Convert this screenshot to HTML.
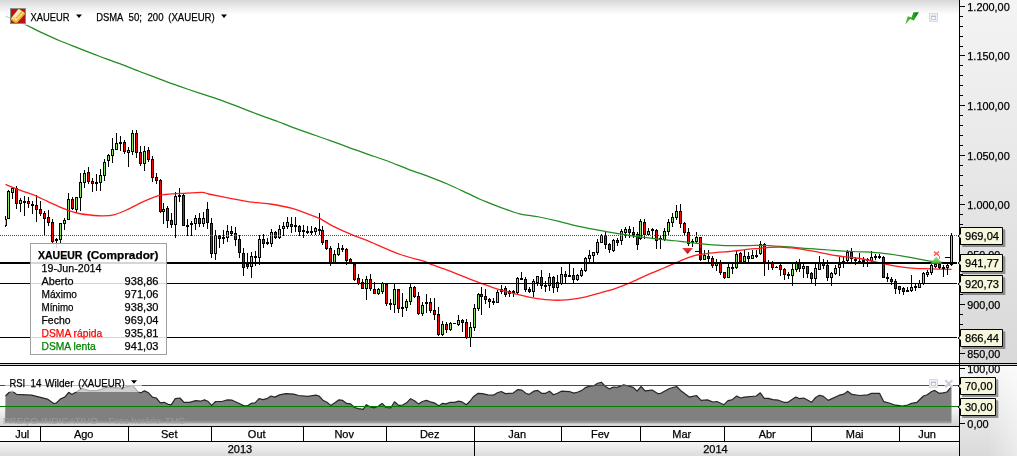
<!DOCTYPE html>
<html><head><meta charset="utf-8"><title>XAUEUR</title>
<style>
html,body{margin:0;padding:0;background:#fff;overflow:hidden}
body{width:1017px;height:456px}
svg{display:block;position:absolute;left:0;top:0;will-change:transform}
text{font-family:"Liberation Sans",sans-serif;font-size:11px;fill:#000;stroke:#000;stroke-width:0.25px}
.c{shape-rendering:crispEdges}
</style></head><body>
<svg width="1017" height="456" viewBox="0 0 1017 456">
<defs>
<linearGradient id="gtop" x1="0" y1="0" x2="0" y2="1"><stop offset="0" stop-color="#d7d7d7"/><stop offset="0.5" stop-color="#ececec"/><stop offset="1" stop-color="#ffffff"/></linearGradient>
<linearGradient id="gax" x1="0" y1="0" x2="0" y2="1"><stop offset="0" stop-color="#f4f4f4"/><stop offset="1" stop-color="#d9d9d9"/></linearGradient>
<linearGradient id="gax2" x1="0" y1="0" x2="0" y2="1"><stop offset="0" stop-color="#f8f8f8"/><stop offset="1" stop-color="#dadada"/></linearGradient>
<linearGradient id="gaxh" x1="0" y1="0" x2="1" y2="0"><stop offset="0" stop-color="#fff" stop-opacity="0"/><stop offset="1" stop-color="#fff" stop-opacity="0.45"/></linearGradient>
<linearGradient id="grsibg" x1="0" y1="0" x2="0" y2="1"><stop offset="0" stop-color="#ffffff"/><stop offset="0.62" stop-color="#ffffff"/><stop offset="1" stop-color="#d4d4d4"/></linearGradient>
<linearGradient id="grsi" x1="0" y1="0" x2="0" y2="1"><stop offset="0" stop-color="#808080"/><stop offset="0.92" stop-color="#808080"/><stop offset="1" stop-color="#acacac"/></linearGradient>
<linearGradient id="gyear" x1="0" y1="0" x2="0" y2="1"><stop offset="0" stop-color="#f6f6f6"/><stop offset="1" stop-color="#dcdcdc"/></linearGradient>
<linearGradient id="ggold" x1="0" y1="0" x2="1" y2="0.6"><stop offset="0" stop-color="#fff8ec"/><stop offset="0.45" stop-color="#fdecc8"/><stop offset="1" stop-color="#f9c15a"/></linearGradient>
<linearGradient id="ggreen" x1="0" y1="0" x2="1" y2="0"><stop offset="0" stop-color="#55c531"/><stop offset="0.55" stop-color="#2fa822"/><stop offset="1" stop-color="#0b6f10"/></linearGradient>
<linearGradient id="gredm" x1="0" y1="0" x2="0" y2="1"><stop offset="0" stop-color="#f04040"/><stop offset="0.25" stop-color="#e02c2c"/><stop offset="1" stop-color="#a81414"/></linearGradient>
<linearGradient id="ggrm" x1="0" y1="0" x2="0" y2="1"><stop offset="0" stop-color="#9be27e"/><stop offset="0.6" stop-color="#6fcf55"/><stop offset="1" stop-color="#3fa63a"/></linearGradient>
<clipPath id="cpmain"><rect x="5" y="0" width="954" height="363"/></clipPath>
<clipPath id="cprsi"><rect x="5" y="366" width="954" height="60"/></clipPath>
</defs>
<rect x="0" y="0" width="1017" height="456" fill="#fff"/>
<rect x="0" y="0" width="959" height="14.5" fill="url(#gtop)"/>
<rect x="960" y="0" width="57" height="363" fill="url(#gax)"/>
<rect x="960" y="366" width="57" height="90" fill="url(#gax2)"/>
<rect x="988" y="366" width="29" height="90" fill="url(#gaxh)"/>
<rect x="0" y="366" width="959" height="60" fill="url(#grsibg)"/>
<rect x="0" y="442" width="959" height="14" fill="url(#gyear)"/>
<g clip-path="url(#cpmain)">
<g class="c">
<rect x="5" y="216" width="1" height="11" fill="#000"/><rect x="5" y="219" width="2" height="7" fill="#000"/><rect x="5" y="220" width="1" height="5" fill="#8ae65c"/><rect x="8" y="190" width="1" height="29" fill="#000"/><rect x="7" y="191" width="3" height="28" fill="#000"/><rect x="8" y="192" width="1" height="26" fill="#8ae65c"/>
<rect x="12" y="187" width="1" height="12" fill="#000"/><rect x="11" y="188" width="3" height="5" fill="#000"/><rect x="12" y="189" width="1" height="3" fill="#8ae65c"/>
<rect x="16" y="186" width="1" height="23" fill="#000"/><rect x="15" y="188" width="3" height="16" fill="#000"/><rect x="16" y="189" width="1" height="14" fill="#ff0000"/>
<rect x="20" y="198" width="1" height="14" fill="#000"/><rect x="19" y="200" width="3" height="4" fill="#000"/><rect x="20" y="201" width="1" height="2" fill="#8ae65c"/>
<rect x="24" y="196" width="1" height="20" fill="#000"/><rect x="23" y="201" width="3" height="2" fill="#000"/>
<rect x="28" y="197" width="1" height="11" fill="#000"/><rect x="27" y="201" width="3" height="3" fill="#000"/><rect x="28" y="202" width="1" height="1" fill="#ff0000"/>
<rect x="32" y="201" width="1" height="13" fill="#000"/><rect x="31" y="204" width="3" height="2" fill="#000"/>
<rect x="36" y="195" width="1" height="27" fill="#000"/><rect x="35" y="205" width="3" height="5" fill="#000"/><rect x="36" y="206" width="1" height="3" fill="#ff0000"/>
<rect x="40" y="201" width="1" height="15" fill="#000"/><rect x="39" y="209" width="3" height="5" fill="#000"/><rect x="40" y="210" width="1" height="3" fill="#ff0000"/>
<rect x="44" y="211" width="1" height="24" fill="#000"/><rect x="43" y="213" width="3" height="6" fill="#000"/><rect x="44" y="214" width="1" height="4" fill="#ff0000"/>
<rect x="48" y="210" width="1" height="16" fill="#000"/><rect x="47" y="217" width="3" height="6" fill="#000"/><rect x="48" y="218" width="1" height="4" fill="#ff0000"/>
<rect x="52" y="219" width="1" height="24" fill="#000"/><rect x="51" y="222" width="3" height="20" fill="#000"/><rect x="52" y="223" width="1" height="18" fill="#ff0000"/>
<rect x="56" y="238" width="1" height="10" fill="#000"/><rect x="55" y="239" width="3" height="2" fill="#000"/>
<rect x="60" y="223" width="1" height="20" fill="#000"/><rect x="59" y="223" width="3" height="17" fill="#000"/><rect x="60" y="224" width="1" height="15" fill="#8ae65c"/>
<rect x="64" y="218" width="1" height="12" fill="#000"/><rect x="63" y="220" width="3" height="4" fill="#000"/><rect x="64" y="221" width="1" height="2" fill="#8ae65c"/>
<rect x="68" y="193" width="1" height="27" fill="#000"/><rect x="67" y="199" width="3" height="21" fill="#000"/><rect x="68" y="200" width="1" height="19" fill="#8ae65c"/>
<rect x="72" y="197" width="1" height="13" fill="#000"/><rect x="71" y="199" width="3" height="10" fill="#000"/><rect x="72" y="200" width="1" height="8" fill="#ff0000"/>
<rect x="76" y="197" width="1" height="16" fill="#000"/><rect x="75" y="197" width="3" height="13" fill="#000"/><rect x="76" y="198" width="1" height="11" fill="#8ae65c"/>
<rect x="80" y="173" width="1" height="38" fill="#000"/><rect x="79" y="182" width="3" height="16" fill="#000"/><rect x="80" y="183" width="1" height="14" fill="#8ae65c"/>
<rect x="84" y="170" width="1" height="18" fill="#000"/><rect x="83" y="173" width="3" height="10" fill="#000"/><rect x="84" y="174" width="1" height="8" fill="#8ae65c"/>
<rect x="88" y="167" width="1" height="17" fill="#000"/><rect x="87" y="172" width="3" height="10" fill="#000"/><rect x="88" y="173" width="1" height="8" fill="#ff0000"/>
<rect x="92" y="178" width="1" height="14" fill="#000"/><rect x="91" y="181" width="3" height="3" fill="#000"/><rect x="92" y="182" width="1" height="1" fill="#ff0000"/>
<rect x="96" y="174" width="1" height="17" fill="#000"/><rect x="95" y="182" width="3" height="2" fill="#000"/>
<rect x="100" y="169" width="1" height="22" fill="#000"/><rect x="99" y="175" width="3" height="8" fill="#000"/><rect x="100" y="176" width="1" height="6" fill="#8ae65c"/>
<rect x="104" y="159" width="1" height="22" fill="#000"/><rect x="103" y="162" width="3" height="14" fill="#000"/><rect x="104" y="163" width="1" height="12" fill="#8ae65c"/>
<rect x="108" y="154" width="1" height="13" fill="#000"/><rect x="107" y="155" width="3" height="6" fill="#000"/><rect x="108" y="156" width="1" height="4" fill="#8ae65c"/>
<rect x="112" y="138" width="1" height="25" fill="#000"/><rect x="111" y="149" width="3" height="7" fill="#000"/><rect x="112" y="150" width="1" height="5" fill="#8ae65c"/>
<rect x="116" y="133" width="1" height="17" fill="#000"/><rect x="115" y="143" width="3" height="7" fill="#000"/><rect x="116" y="144" width="1" height="5" fill="#8ae65c"/>
<rect x="120" y="136" width="1" height="15" fill="#000"/><rect x="119" y="142" width="3" height="2" fill="#000"/>
<rect x="124" y="140" width="1" height="14" fill="#000"/><rect x="123" y="142" width="3" height="10" fill="#000"/><rect x="124" y="143" width="1" height="8" fill="#ff0000"/>
<rect x="128" y="147" width="1" height="20" fill="#000"/><rect x="127" y="150" width="3" height="3" fill="#000"/><rect x="128" y="151" width="1" height="1" fill="#8ae65c"/>
<rect x="132" y="130" width="1" height="25" fill="#000"/><rect x="131" y="133" width="3" height="19" fill="#000"/><rect x="132" y="134" width="1" height="17" fill="#8ae65c"/>
<rect x="136" y="130" width="1" height="28" fill="#000"/><rect x="135" y="133" width="3" height="20" fill="#000"/><rect x="136" y="134" width="1" height="18" fill="#ff0000"/>
<rect x="140" y="146" width="1" height="20" fill="#000"/><rect x="139" y="152" width="3" height="12" fill="#000"/><rect x="140" y="153" width="1" height="10" fill="#ff0000"/>
<rect x="144" y="146" width="1" height="25" fill="#000"/><rect x="143" y="151" width="3" height="13" fill="#000"/><rect x="144" y="152" width="1" height="11" fill="#8ae65c"/>
<rect x="148" y="147" width="1" height="15" fill="#000"/><rect x="147" y="150" width="3" height="10" fill="#000"/><rect x="148" y="151" width="1" height="8" fill="#ff0000"/>
<rect x="152" y="156" width="1" height="26" fill="#000"/><rect x="151" y="159" width="3" height="19" fill="#000"/><rect x="152" y="160" width="1" height="17" fill="#ff0000"/>
<rect x="156" y="173" width="1" height="11" fill="#000"/><rect x="155" y="177" width="3" height="4" fill="#000"/><rect x="156" y="178" width="1" height="2" fill="#ff0000"/>
<rect x="160" y="179" width="1" height="34" fill="#000"/><rect x="159" y="180" width="3" height="32" fill="#000"/><rect x="160" y="181" width="1" height="30" fill="#ff0000"/>
<rect x="163" y="203" width="1" height="21" fill="#000"/><rect x="162" y="209" width="3" height="3" fill="#000"/><rect x="163" y="210" width="1" height="1" fill="#8ae65c"/>
<rect x="167" y="206" width="1" height="22" fill="#000"/><rect x="166" y="208" width="3" height="13" fill="#000"/><rect x="167" y="209" width="1" height="11" fill="#ff0000"/>
<rect x="171" y="213" width="1" height="15" fill="#000"/><rect x="170" y="220" width="3" height="5" fill="#000"/><rect x="171" y="221" width="1" height="3" fill="#ff0000"/>
<rect x="175" y="192" width="1" height="46" fill="#000"/><rect x="174" y="196" width="3" height="29" fill="#000"/><rect x="175" y="197" width="1" height="27" fill="#8ae65c"/>
<rect x="179" y="188" width="1" height="14" fill="#000"/><rect x="178" y="195" width="3" height="2" fill="#000"/>
<rect x="183" y="194" width="1" height="31" fill="#000"/><rect x="182" y="195" width="3" height="31" fill="#000"/><rect x="183" y="196" width="1" height="29" fill="#ff0000"/>
<rect x="187" y="219" width="1" height="17" fill="#000"/><rect x="186" y="225" width="3" height="2" fill="#000"/>
<rect x="191" y="221" width="1" height="15" fill="#000"/><rect x="190" y="223" width="3" height="2" fill="#000"/>
<rect x="195" y="215" width="1" height="15" fill="#000"/><rect x="194" y="218" width="3" height="6" fill="#000"/><rect x="195" y="219" width="1" height="4" fill="#8ae65c"/>
<rect x="199" y="213" width="1" height="14" fill="#000"/><rect x="198" y="218" width="3" height="6" fill="#000"/><rect x="199" y="219" width="1" height="4" fill="#ff0000"/>
<rect x="203" y="212" width="1" height="15" fill="#000"/><rect x="202" y="218" width="3" height="6" fill="#000"/><rect x="203" y="219" width="1" height="4" fill="#8ae65c"/>
<rect x="207" y="202" width="1" height="27" fill="#000"/><rect x="206" y="209" width="3" height="14" fill="#000"/><rect x="207" y="210" width="1" height="12" fill="#ff0000"/>
<rect x="211" y="218" width="1" height="40" fill="#000"/><rect x="210" y="223" width="3" height="31" fill="#000"/><rect x="211" y="224" width="1" height="29" fill="#ff0000"/>
<rect x="215" y="230" width="1" height="30" fill="#000"/><rect x="214" y="235" width="3" height="19" fill="#000"/><rect x="215" y="236" width="1" height="17" fill="#8ae65c"/>
<rect x="219" y="235" width="1" height="13" fill="#000"/><rect x="218" y="236" width="3" height="3" fill="#000"/><rect x="219" y="237" width="1" height="1" fill="#ff0000"/>
<rect x="223" y="230" width="1" height="14" fill="#000"/><rect x="222" y="237" width="3" height="2" fill="#000"/>
<rect x="227" y="225" width="1" height="17" fill="#000"/><rect x="226" y="231" width="3" height="7" fill="#000"/><rect x="227" y="232" width="1" height="5" fill="#8ae65c"/>
<rect x="231" y="226" width="1" height="10" fill="#000"/><rect x="230" y="231" width="3" height="3" fill="#000"/><rect x="231" y="232" width="1" height="1" fill="#ff0000"/>
<rect x="235" y="227" width="1" height="19" fill="#000"/><rect x="234" y="233" width="3" height="7" fill="#000"/><rect x="235" y="234" width="1" height="5" fill="#ff0000"/>
<rect x="239" y="235" width="1" height="23" fill="#000"/><rect x="238" y="239" width="3" height="14" fill="#000"/><rect x="239" y="240" width="1" height="12" fill="#ff0000"/>
<rect x="243" y="248" width="1" height="28" fill="#000"/><rect x="242" y="253" width="3" height="15" fill="#000"/><rect x="243" y="254" width="1" height="13" fill="#ff0000"/>
<rect x="247" y="253" width="1" height="16" fill="#000"/><rect x="246" y="264" width="3" height="3" fill="#000"/><rect x="247" y="265" width="1" height="1" fill="#ff0000"/>
<rect x="251" y="252" width="1" height="26" fill="#000"/><rect x="250" y="256" width="3" height="11" fill="#000"/><rect x="251" y="257" width="1" height="9" fill="#8ae65c"/>
<rect x="255" y="251" width="1" height="15" fill="#000"/><rect x="254" y="256" width="3" height="2" fill="#000"/>
<rect x="259" y="235" width="1" height="30" fill="#000"/><rect x="258" y="239" width="3" height="19" fill="#000"/><rect x="259" y="240" width="1" height="17" fill="#8ae65c"/>
<rect x="263" y="234" width="1" height="14" fill="#000"/><rect x="262" y="239" width="3" height="5" fill="#000"/><rect x="263" y="240" width="1" height="3" fill="#ff0000"/>
<rect x="267" y="238" width="1" height="7" fill="#000"/><rect x="266" y="242" width="3" height="2" fill="#000"/>
<rect x="271" y="229" width="1" height="18" fill="#000"/><rect x="270" y="232" width="3" height="12" fill="#000"/><rect x="271" y="233" width="1" height="10" fill="#8ae65c"/>
<rect x="275" y="231" width="1" height="8" fill="#000"/><rect x="274" y="232" width="3" height="6" fill="#000"/><rect x="275" y="233" width="1" height="4" fill="#ff0000"/>
<rect x="279" y="225" width="1" height="14" fill="#000"/><rect x="278" y="229" width="3" height="9" fill="#000"/><rect x="279" y="230" width="1" height="7" fill="#8ae65c"/>
<rect x="283" y="222" width="1" height="14" fill="#000"/><rect x="282" y="226" width="3" height="3" fill="#000"/><rect x="283" y="227" width="1" height="1" fill="#8ae65c"/>
<rect x="287" y="217" width="1" height="12" fill="#000"/><rect x="286" y="222" width="3" height="5" fill="#000"/><rect x="287" y="223" width="1" height="3" fill="#8ae65c"/>
<rect x="291" y="217" width="1" height="16" fill="#000"/><rect x="290" y="224" width="3" height="3" fill="#000"/><rect x="291" y="225" width="1" height="1" fill="#ff0000"/>
<rect x="295" y="217" width="1" height="15" fill="#000"/><rect x="294" y="225" width="3" height="2" fill="#000"/>
<rect x="299" y="225" width="1" height="11" fill="#000"/><rect x="298" y="226" width="3" height="6" fill="#000"/><rect x="299" y="227" width="1" height="4" fill="#ff0000"/>
<rect x="303" y="225" width="1" height="13" fill="#000"/><rect x="302" y="230" width="3" height="2" fill="#000"/>
<rect x="307" y="226" width="1" height="8" fill="#000"/><rect x="306" y="231" width="3" height="2" fill="#000"/>
<rect x="311" y="226" width="1" height="9" fill="#000"/><rect x="310" y="231" width="3" height="2" fill="#000"/>
<rect x="315" y="227" width="1" height="8" fill="#000"/><rect x="314" y="228" width="3" height="4" fill="#000"/><rect x="315" y="229" width="1" height="2" fill="#8ae65c"/>
<rect x="319" y="213" width="1" height="22" fill="#000"/><rect x="318" y="229" width="3" height="2" fill="#000"/>
<rect x="322" y="226" width="1" height="19" fill="#000"/><rect x="321" y="230" width="3" height="13" fill="#000"/><rect x="322" y="231" width="1" height="11" fill="#ff0000"/>
<rect x="326" y="240" width="1" height="10" fill="#000"/><rect x="325" y="240" width="3" height="9" fill="#000"/><rect x="326" y="241" width="1" height="7" fill="#ff0000"/>
<rect x="330" y="246" width="1" height="20" fill="#000"/><rect x="329" y="248" width="3" height="16" fill="#000"/><rect x="330" y="249" width="1" height="14" fill="#ff0000"/>
<rect x="334" y="250" width="1" height="12" fill="#000"/><rect x="333" y="254" width="3" height="9" fill="#000"/><rect x="334" y="255" width="1" height="7" fill="#8ae65c"/>
<rect x="338" y="243" width="1" height="13" fill="#000"/><rect x="337" y="248" width="3" height="7" fill="#000"/><rect x="338" y="249" width="1" height="5" fill="#8ae65c"/>
<rect x="342" y="245" width="1" height="7" fill="#000"/><rect x="341" y="248" width="3" height="2" fill="#000"/>
<rect x="346" y="248" width="1" height="17" fill="#000"/><rect x="345" y="249" width="3" height="12" fill="#000"/><rect x="346" y="250" width="1" height="10" fill="#ff0000"/>
<rect x="350" y="258" width="1" height="6" fill="#000"/><rect x="349" y="259" width="3" height="4" fill="#000"/><rect x="350" y="260" width="1" height="2" fill="#ff0000"/>
<rect x="354" y="262" width="1" height="19" fill="#000"/><rect x="353" y="264" width="3" height="16" fill="#000"/><rect x="354" y="265" width="1" height="14" fill="#ff0000"/>
<rect x="358" y="274" width="1" height="11" fill="#000"/><rect x="357" y="278" width="3" height="6" fill="#000"/><rect x="358" y="279" width="1" height="4" fill="#ff0000"/>
<rect x="362" y="279" width="1" height="9" fill="#000"/><rect x="361" y="282" width="3" height="7" fill="#000"/><rect x="362" y="283" width="1" height="5" fill="#ff0000"/>
<rect x="366" y="276" width="1" height="24" fill="#000"/><rect x="365" y="279" width="3" height="10" fill="#000"/><rect x="366" y="280" width="1" height="8" fill="#8ae65c"/>
<rect x="370" y="274" width="1" height="17" fill="#000"/><rect x="369" y="279" width="3" height="10" fill="#000"/><rect x="370" y="280" width="1" height="8" fill="#ff0000"/>
<rect x="374" y="282" width="1" height="12" fill="#000"/><rect x="373" y="289" width="3" height="5" fill="#000"/><rect x="374" y="290" width="1" height="3" fill="#ff0000"/>
<rect x="378" y="288" width="1" height="7" fill="#000"/><rect x="377" y="289" width="3" height="5" fill="#000"/><rect x="378" y="290" width="1" height="3" fill="#8ae65c"/>
<rect x="382" y="282" width="1" height="12" fill="#000"/><rect x="381" y="283" width="3" height="9" fill="#000"/><rect x="382" y="284" width="1" height="7" fill="#8ae65c"/>
<rect x="386" y="283" width="1" height="23" fill="#000"/><rect x="385" y="284" width="3" height="20" fill="#000"/><rect x="386" y="285" width="1" height="18" fill="#ff0000"/>
<rect x="390" y="299" width="1" height="11" fill="#000"/><rect x="389" y="303" width="3" height="2" fill="#000"/>
<rect x="394" y="284" width="1" height="29" fill="#000"/><rect x="393" y="289" width="3" height="16" fill="#000"/><rect x="394" y="290" width="1" height="14" fill="#8ae65c"/>
<rect x="398" y="289" width="1" height="24" fill="#000"/><rect x="397" y="289" width="3" height="20" fill="#000"/><rect x="398" y="290" width="1" height="18" fill="#ff0000"/>
<rect x="402" y="293" width="1" height="24" fill="#000"/><rect x="401" y="307" width="3" height="2" fill="#000"/>
<rect x="406" y="299" width="1" height="12" fill="#000"/><rect x="405" y="301" width="3" height="7" fill="#000"/><rect x="406" y="302" width="1" height="5" fill="#8ae65c"/>
<rect x="410" y="284" width="1" height="21" fill="#000"/><rect x="409" y="287" width="3" height="15" fill="#000"/><rect x="410" y="288" width="1" height="13" fill="#8ae65c"/>
<rect x="414" y="286" width="1" height="12" fill="#000"/><rect x="413" y="287" width="3" height="10" fill="#000"/><rect x="414" y="288" width="1" height="8" fill="#ff0000"/>
<rect x="418" y="292" width="1" height="23" fill="#000"/><rect x="417" y="296" width="3" height="18" fill="#000"/><rect x="418" y="297" width="1" height="16" fill="#ff0000"/>
<rect x="422" y="302" width="1" height="14" fill="#000"/><rect x="421" y="305" width="3" height="9" fill="#000"/><rect x="422" y="306" width="1" height="7" fill="#8ae65c"/>
<rect x="426" y="294" width="1" height="19" fill="#000"/><rect x="425" y="302" width="3" height="2" fill="#000"/>
<rect x="430" y="298" width="1" height="15" fill="#000"/><rect x="429" y="302" width="3" height="9" fill="#000"/><rect x="430" y="303" width="1" height="7" fill="#ff0000"/>
<rect x="434" y="298" width="1" height="22" fill="#000"/><rect x="433" y="310" width="3" height="5" fill="#000"/><rect x="434" y="311" width="1" height="3" fill="#ff0000"/>
<rect x="438" y="307" width="1" height="29" fill="#000"/><rect x="437" y="314" width="3" height="21" fill="#000"/><rect x="438" y="315" width="1" height="19" fill="#ff0000"/>
<rect x="442" y="321" width="1" height="15" fill="#000"/><rect x="441" y="324" width="3" height="11" fill="#000"/><rect x="442" y="325" width="1" height="9" fill="#8ae65c"/>
<rect x="446" y="322" width="1" height="11" fill="#000"/><rect x="445" y="324" width="3" height="6" fill="#000"/><rect x="446" y="325" width="1" height="4" fill="#ff0000"/>
<rect x="450" y="322" width="1" height="9" fill="#000"/><rect x="449" y="323" width="3" height="7" fill="#000"/><rect x="450" y="324" width="1" height="5" fill="#8ae65c"/>
<rect x="453" y="323" width="3" height="1" fill="#000"/>
<rect x="458" y="315" width="1" height="11" fill="#000"/><rect x="457" y="320" width="3" height="5" fill="#000"/><rect x="458" y="321" width="1" height="3" fill="#8ae65c"/>
<rect x="462" y="319" width="1" height="13" fill="#000"/><rect x="461" y="320" width="3" height="3" fill="#000"/><rect x="462" y="321" width="1" height="1" fill="#ff0000"/>
<rect x="466" y="319" width="1" height="20" fill="#000"/><rect x="465" y="322" width="3" height="16" fill="#000"/><rect x="466" y="323" width="1" height="14" fill="#ff0000"/>
<rect x="470" y="322" width="1" height="25" fill="#000"/><rect x="469" y="327" width="3" height="11" fill="#000"/><rect x="470" y="328" width="1" height="9" fill="#8ae65c"/>
<rect x="474" y="304" width="1" height="27" fill="#000"/><rect x="473" y="308" width="3" height="20" fill="#000"/><rect x="474" y="309" width="1" height="18" fill="#8ae65c"/>
<rect x="478" y="293" width="1" height="18" fill="#000"/><rect x="477" y="294" width="3" height="15" fill="#000"/><rect x="478" y="295" width="1" height="13" fill="#8ae65c"/>
<rect x="481" y="287" width="1" height="28" fill="#000"/><rect x="480" y="294" width="3" height="3" fill="#000"/><rect x="481" y="295" width="1" height="1" fill="#ff0000"/>
<rect x="485" y="289" width="1" height="15" fill="#000"/><rect x="484" y="296" width="3" height="4" fill="#000"/><rect x="485" y="297" width="1" height="2" fill="#ff0000"/>
<rect x="489" y="298" width="1" height="10" fill="#000"/><rect x="488" y="299" width="3" height="3" fill="#000"/><rect x="489" y="300" width="1" height="1" fill="#ff0000"/>
<rect x="493" y="298" width="1" height="7" fill="#000"/><rect x="492" y="301" width="3" height="2" fill="#000"/>
<rect x="497" y="290" width="1" height="12" fill="#000"/><rect x="496" y="292" width="3" height="11" fill="#000"/><rect x="497" y="293" width="1" height="9" fill="#8ae65c"/>
<rect x="501" y="285" width="1" height="9" fill="#000"/><rect x="500" y="289" width="3" height="3" fill="#000"/><rect x="501" y="290" width="1" height="1" fill="#8ae65c"/>
<rect x="505" y="286" width="1" height="11" fill="#000"/><rect x="504" y="288" width="3" height="7" fill="#000"/><rect x="505" y="289" width="1" height="5" fill="#ff0000"/>
<rect x="509" y="290" width="1" height="7" fill="#000"/><rect x="508" y="291" width="3" height="3" fill="#000"/><rect x="509" y="292" width="1" height="1" fill="#8ae65c"/>
<rect x="513" y="290" width="1" height="7" fill="#000"/><rect x="512" y="291" width="3" height="2" fill="#000"/>
<rect x="517" y="277" width="1" height="17" fill="#000"/><rect x="516" y="278" width="3" height="15" fill="#000"/><rect x="517" y="279" width="1" height="13" fill="#8ae65c"/>
<rect x="521" y="272" width="1" height="8" fill="#000"/><rect x="520" y="278" width="3" height="2" fill="#000"/>
<rect x="525" y="277" width="1" height="15" fill="#000"/><rect x="524" y="279" width="3" height="11" fill="#000"/><rect x="525" y="280" width="1" height="9" fill="#ff0000"/>
<rect x="529" y="287" width="1" height="6" fill="#000"/><rect x="528" y="289" width="3" height="3" fill="#000"/><rect x="529" y="290" width="1" height="1" fill="#ff0000"/>
<rect x="533" y="279" width="1" height="18" fill="#000"/><rect x="532" y="281" width="3" height="11" fill="#000"/><rect x="533" y="282" width="1" height="9" fill="#8ae65c"/>
<rect x="537" y="276" width="1" height="10" fill="#000"/><rect x="536" y="276" width="3" height="7" fill="#000"/><rect x="537" y="277" width="1" height="5" fill="#8ae65c"/>
<rect x="541" y="270" width="1" height="19" fill="#000"/><rect x="540" y="277" width="3" height="9" fill="#000"/><rect x="541" y="278" width="1" height="7" fill="#ff0000"/>
<rect x="545" y="281" width="1" height="11" fill="#000"/><rect x="544" y="285" width="3" height="2" fill="#000"/>
<rect x="549" y="273" width="1" height="18" fill="#000"/><rect x="548" y="277" width="3" height="9" fill="#000"/><rect x="549" y="278" width="1" height="7" fill="#8ae65c"/>
<rect x="553" y="276" width="1" height="17" fill="#000"/><rect x="552" y="277" width="3" height="11" fill="#000"/><rect x="553" y="278" width="1" height="9" fill="#ff0000"/>
<rect x="557" y="275" width="1" height="17" fill="#000"/><rect x="556" y="282" width="3" height="6" fill="#000"/><rect x="557" y="283" width="1" height="4" fill="#8ae65c"/>
<rect x="561" y="267" width="1" height="18" fill="#000"/><rect x="560" y="274" width="3" height="10" fill="#000"/><rect x="561" y="275" width="1" height="8" fill="#8ae65c"/>
<rect x="565" y="271" width="1" height="12" fill="#000"/><rect x="564" y="274" width="3" height="3" fill="#000"/><rect x="565" y="275" width="1" height="1" fill="#ff0000"/>
<rect x="569" y="264" width="1" height="13" fill="#000"/><rect x="568" y="275" width="3" height="2" fill="#000"/>
<rect x="573" y="268" width="1" height="15" fill="#000"/><rect x="572" y="275" width="3" height="5" fill="#000"/><rect x="573" y="276" width="1" height="3" fill="#ff0000"/>
<rect x="577" y="274" width="1" height="7" fill="#000"/><rect x="576" y="275" width="3" height="5" fill="#000"/><rect x="577" y="276" width="1" height="3" fill="#8ae65c"/>
<rect x="581" y="268" width="1" height="9" fill="#000"/><rect x="580" y="270" width="3" height="6" fill="#000"/><rect x="581" y="271" width="1" height="4" fill="#8ae65c"/>
<rect x="585" y="257" width="1" height="15" fill="#000"/><rect x="584" y="258" width="3" height="13" fill="#000"/><rect x="585" y="259" width="1" height="11" fill="#8ae65c"/>
<rect x="589" y="250" width="1" height="12" fill="#000"/><rect x="588" y="255" width="3" height="4" fill="#000"/><rect x="589" y="256" width="1" height="2" fill="#8ae65c"/>
<rect x="593" y="252" width="1" height="10" fill="#000"/><rect x="592" y="252" width="3" height="4" fill="#000"/><rect x="593" y="253" width="1" height="2" fill="#8ae65c"/>
<rect x="597" y="239" width="1" height="16" fill="#000"/><rect x="596" y="242" width="3" height="11" fill="#000"/><rect x="597" y="243" width="1" height="9" fill="#8ae65c"/>
<rect x="601" y="234" width="1" height="9" fill="#000"/><rect x="600" y="235" width="3" height="8" fill="#000"/><rect x="601" y="236" width="1" height="6" fill="#8ae65c"/>
<rect x="605" y="232" width="1" height="17" fill="#000"/><rect x="604" y="235" width="3" height="10" fill="#000"/><rect x="605" y="236" width="1" height="8" fill="#ff0000"/>
<rect x="609" y="243" width="1" height="10" fill="#000"/><rect x="608" y="244" width="3" height="6" fill="#000"/><rect x="609" y="245" width="1" height="4" fill="#ff0000"/>
<rect x="613" y="239" width="1" height="13" fill="#000"/><rect x="612" y="240" width="3" height="11" fill="#000"/><rect x="613" y="241" width="1" height="9" fill="#8ae65c"/>
<rect x="617" y="238" width="1" height="8" fill="#000"/><rect x="616" y="240" width="3" height="3" fill="#000"/><rect x="617" y="241" width="1" height="1" fill="#ff0000"/>
<rect x="621" y="229" width="1" height="16" fill="#000"/><rect x="620" y="231" width="3" height="10" fill="#000"/><rect x="621" y="232" width="1" height="8" fill="#8ae65c"/>
<rect x="625" y="227" width="1" height="11" fill="#000"/><rect x="624" y="229" width="3" height="4" fill="#000"/><rect x="625" y="230" width="1" height="2" fill="#8ae65c"/>
<rect x="629" y="226" width="1" height="12" fill="#000"/><rect x="628" y="229" width="3" height="4" fill="#000"/><rect x="629" y="230" width="1" height="2" fill="#ff0000"/>
<rect x="633" y="227" width="1" height="11" fill="#000"/><rect x="632" y="232" width="3" height="3" fill="#000"/><rect x="633" y="233" width="1" height="1" fill="#ff0000"/>
<rect x="637" y="232" width="1" height="18" fill="#000"/><rect x="636" y="234" width="3" height="11" fill="#000"/><rect x="637" y="235" width="1" height="9" fill="#ff0000"/>
<rect x="640" y="219" width="1" height="21" fill="#000"/><rect x="639" y="221" width="3" height="18" fill="#000"/><rect x="640" y="222" width="1" height="16" fill="#8ae65c"/>
<rect x="644" y="219" width="1" height="20" fill="#000"/><rect x="643" y="222" width="3" height="13" fill="#000"/><rect x="644" y="223" width="1" height="11" fill="#ff0000"/>
<rect x="648" y="228" width="1" height="8" fill="#000"/><rect x="647" y="231" width="3" height="4" fill="#000"/><rect x="648" y="232" width="1" height="2" fill="#8ae65c"/>
<rect x="652" y="228" width="1" height="11" fill="#000"/><rect x="651" y="229" width="3" height="2" fill="#000"/>
<rect x="656" y="229" width="1" height="20" fill="#000"/><rect x="655" y="230" width="3" height="11" fill="#000"/><rect x="656" y="231" width="1" height="9" fill="#ff0000"/>
<rect x="660" y="236" width="1" height="13" fill="#000"/><rect x="659" y="238" width="3" height="2" fill="#000"/>
<rect x="664" y="228" width="1" height="13" fill="#000"/><rect x="663" y="231" width="3" height="9" fill="#000"/><rect x="664" y="232" width="1" height="7" fill="#8ae65c"/>
<rect x="668" y="219" width="1" height="17" fill="#000"/><rect x="667" y="222" width="3" height="10" fill="#000"/><rect x="668" y="223" width="1" height="8" fill="#8ae65c"/>
<rect x="672" y="213" width="1" height="14" fill="#000"/><rect x="671" y="217" width="3" height="6" fill="#000"/><rect x="672" y="218" width="1" height="4" fill="#8ae65c"/>
<rect x="676" y="205" width="1" height="15" fill="#000"/><rect x="675" y="211" width="3" height="7" fill="#000"/><rect x="676" y="212" width="1" height="5" fill="#8ae65c"/>
<rect x="680" y="204" width="1" height="24" fill="#000"/><rect x="679" y="211" width="3" height="13" fill="#000"/><rect x="680" y="212" width="1" height="11" fill="#ff0000"/>
<rect x="684" y="222" width="1" height="14" fill="#000"/><rect x="683" y="223" width="3" height="10" fill="#000"/><rect x="684" y="224" width="1" height="8" fill="#ff0000"/>
<rect x="688" y="228" width="1" height="18" fill="#000"/><rect x="687" y="232" width="3" height="12" fill="#000"/><rect x="688" y="233" width="1" height="10" fill="#ff0000"/>
<rect x="692" y="239" width="1" height="8" fill="#000"/><rect x="691" y="241" width="3" height="2" fill="#000"/>
<rect x="696" y="232" width="1" height="11" fill="#000"/><rect x="695" y="237" width="3" height="5" fill="#000"/><rect x="696" y="238" width="1" height="3" fill="#8ae65c"/>
<rect x="700" y="237" width="1" height="24" fill="#000"/><rect x="699" y="237" width="3" height="23" fill="#000"/><rect x="700" y="238" width="1" height="21" fill="#ff0000"/>
<rect x="704" y="250" width="1" height="9" fill="#000"/><rect x="703" y="255" width="3" height="5" fill="#000"/><rect x="704" y="256" width="1" height="3" fill="#8ae65c"/>
<rect x="708" y="250" width="1" height="12" fill="#000"/><rect x="707" y="256" width="3" height="3" fill="#000"/><rect x="708" y="257" width="1" height="1" fill="#ff0000"/>
<rect x="712" y="256" width="1" height="12" fill="#000"/><rect x="711" y="258" width="3" height="8" fill="#000"/><rect x="712" y="259" width="1" height="6" fill="#ff0000"/>
<rect x="716" y="259" width="1" height="12" fill="#000"/><rect x="715" y="263" width="3" height="3" fill="#000"/><rect x="716" y="264" width="1" height="1" fill="#8ae65c"/>
<rect x="720" y="260" width="1" height="15" fill="#000"/><rect x="719" y="263" width="3" height="10" fill="#000"/><rect x="720" y="264" width="1" height="8" fill="#ff0000"/>
<rect x="724" y="272" width="1" height="7" fill="#000"/><rect x="723" y="272" width="3" height="6" fill="#000"/><rect x="724" y="273" width="1" height="4" fill="#ff0000"/>
<rect x="728" y="264" width="1" height="14" fill="#000"/><rect x="727" y="267" width="3" height="11" fill="#000"/><rect x="728" y="268" width="1" height="9" fill="#8ae65c"/>
<rect x="732" y="264" width="1" height="10" fill="#000"/><rect x="731" y="267" width="3" height="2" fill="#000"/>
<rect x="736" y="250" width="1" height="19" fill="#000"/><rect x="735" y="254" width="3" height="14" fill="#000"/><rect x="736" y="255" width="1" height="12" fill="#8ae65c"/>
<rect x="740" y="252" width="1" height="10" fill="#000"/><rect x="739" y="253" width="3" height="9" fill="#000"/><rect x="740" y="254" width="1" height="7" fill="#ff0000"/>
<rect x="744" y="250" width="1" height="12" fill="#000"/><rect x="743" y="256" width="3" height="6" fill="#000"/><rect x="744" y="257" width="1" height="4" fill="#8ae65c"/>
<rect x="748" y="252" width="1" height="10" fill="#000"/><rect x="747" y="256" width="3" height="3" fill="#000"/><rect x="748" y="257" width="1" height="1" fill="#ff0000"/>
<rect x="752" y="250" width="1" height="8" fill="#000"/><rect x="751" y="255" width="3" height="4" fill="#000"/><rect x="752" y="256" width="1" height="2" fill="#8ae65c"/>
<rect x="756" y="250" width="1" height="8" fill="#000"/><rect x="755" y="255" width="3" height="2" fill="#000"/>
<rect x="760" y="241" width="1" height="14" fill="#000"/><rect x="759" y="244" width="3" height="10" fill="#000"/><rect x="760" y="245" width="1" height="8" fill="#8ae65c"/>
<rect x="764" y="243" width="1" height="33" fill="#000"/><rect x="763" y="244" width="3" height="18" fill="#000"/><rect x="764" y="245" width="1" height="16" fill="#ff0000"/>
<rect x="768" y="260" width="1" height="10" fill="#000"/>
<rect x="772" y="261" width="1" height="9" fill="#000"/><rect x="771" y="263" width="3" height="5" fill="#000"/><rect x="772" y="264" width="1" height="3" fill="#ff0000"/>
<rect x="776" y="266" width="1" height="1" fill="#000"/><rect x="775" y="267" width="3" height="1" fill="#000"/>
<rect x="780" y="264" width="1" height="12" fill="#000"/><rect x="779" y="265" width="3" height="5" fill="#000"/><rect x="780" y="266" width="1" height="3" fill="#ff0000"/>
<rect x="784" y="268" width="1" height="12" fill="#000"/><rect x="783" y="269" width="3" height="6" fill="#000"/><rect x="784" y="270" width="1" height="4" fill="#ff0000"/>
<rect x="788" y="272" width="1" height="7" fill="#000"/><rect x="787" y="274" width="3" height="2" fill="#000"/>
<rect x="792" y="264" width="1" height="22" fill="#000"/><rect x="791" y="269" width="3" height="7" fill="#000"/><rect x="792" y="270" width="1" height="5" fill="#8ae65c"/>
<rect x="796" y="261" width="1" height="11" fill="#000"/><rect x="795" y="263" width="3" height="7" fill="#000"/><rect x="796" y="264" width="1" height="5" fill="#8ae65c"/>
<rect x="799" y="259" width="1" height="13" fill="#000"/><rect x="798" y="263" width="3" height="6" fill="#000"/><rect x="799" y="264" width="1" height="4" fill="#ff0000"/>
<rect x="803" y="264" width="1" height="14" fill="#000"/><rect x="802" y="266" width="3" height="3" fill="#000"/><rect x="803" y="267" width="1" height="1" fill="#8ae65c"/>
<rect x="807" y="266" width="1" height="12" fill="#000"/><rect x="806" y="266" width="3" height="8" fill="#000"/><rect x="807" y="267" width="1" height="6" fill="#ff0000"/>
<rect x="811" y="272" width="1" height="11" fill="#000"/><rect x="810" y="273" width="3" height="6" fill="#000"/><rect x="811" y="274" width="1" height="4" fill="#ff0000"/>
<rect x="815" y="264" width="1" height="22" fill="#000"/><rect x="814" y="268" width="3" height="11" fill="#000"/><rect x="815" y="269" width="1" height="9" fill="#8ae65c"/>
<rect x="819" y="256" width="1" height="14" fill="#000"/><rect x="818" y="263" width="3" height="7" fill="#000"/><rect x="819" y="264" width="1" height="5" fill="#8ae65c"/>
<rect x="823" y="259" width="1" height="10" fill="#000"/><rect x="822" y="263" width="3" height="3" fill="#000"/><rect x="823" y="264" width="1" height="1" fill="#ff0000"/>
<rect x="827" y="260" width="1" height="21" fill="#000"/><rect x="826" y="265" width="3" height="13" fill="#000"/><rect x="827" y="266" width="1" height="11" fill="#ff0000"/>
<rect x="831" y="272" width="1" height="14" fill="#000"/><rect x="830" y="273" width="3" height="5" fill="#000"/><rect x="831" y="274" width="1" height="3" fill="#8ae65c"/>
<rect x="835" y="265" width="1" height="10" fill="#000"/><rect x="834" y="268" width="3" height="6" fill="#000"/><rect x="835" y="269" width="1" height="4" fill="#8ae65c"/>
<rect x="839" y="257" width="1" height="19" fill="#000"/><rect x="838" y="264" width="3" height="4" fill="#000"/><rect x="839" y="265" width="1" height="2" fill="#8ae65c"/>
<rect x="843" y="257" width="1" height="11" fill="#000"/><rect x="842" y="261" width="3" height="2" fill="#000"/>
<rect x="847" y="250" width="1" height="12" fill="#000"/><rect x="846" y="252" width="3" height="9" fill="#000"/><rect x="847" y="253" width="1" height="7" fill="#8ae65c"/>
<rect x="851" y="248" width="1" height="14" fill="#000"/><rect x="850" y="252" width="3" height="7" fill="#000"/><rect x="851" y="253" width="1" height="5" fill="#ff0000"/>
<rect x="855" y="257" width="1" height="8" fill="#000"/><rect x="854" y="259" width="3" height="2" fill="#000"/>
<rect x="859" y="253" width="1" height="10" fill="#000"/><rect x="858" y="261" width="3" height="2" fill="#000"/>
<rect x="863" y="257" width="1" height="10" fill="#000"/><rect x="862" y="260" width="3" height="2" fill="#000"/>
<rect x="867" y="258" width="1" height="9" fill="#000"/><rect x="866" y="259" width="3" height="2" fill="#000"/>
<rect x="871" y="251" width="1" height="11" fill="#000"/><rect x="870" y="257" width="3" height="4" fill="#000"/><rect x="871" y="258" width="1" height="2" fill="#8ae65c"/>
<rect x="875" y="254" width="1" height="6" fill="#000"/><rect x="874" y="256" width="3" height="2" fill="#000"/>
<rect x="879" y="254" width="1" height="5" fill="#000"/><rect x="878" y="256" width="3" height="2" fill="#000"/>
<rect x="883" y="256" width="1" height="22" fill="#000"/><rect x="882" y="257" width="3" height="21" fill="#000"/><rect x="883" y="258" width="1" height="19" fill="#ff0000"/>
<rect x="887" y="273" width="1" height="9" fill="#000"/><rect x="886" y="277" width="3" height="2" fill="#000"/>
<rect x="891" y="277" width="1" height="8" fill="#000"/><rect x="890" y="279" width="3" height="3" fill="#000"/><rect x="891" y="280" width="1" height="1" fill="#ff0000"/>
<rect x="895" y="279" width="1" height="15" fill="#000"/><rect x="894" y="281" width="3" height="8" fill="#000"/><rect x="895" y="282" width="1" height="6" fill="#ff0000"/>
<rect x="899" y="286" width="1" height="8" fill="#000"/><rect x="898" y="286" width="3" height="4" fill="#000"/><rect x="899" y="287" width="1" height="2" fill="#ff0000"/>
<rect x="903" y="287" width="1" height="8" fill="#000"/><rect x="902" y="288" width="3" height="4" fill="#000"/><rect x="903" y="289" width="1" height="2" fill="#ff0000"/>
<rect x="907" y="287" width="1" height="5" fill="#000"/><rect x="906" y="290" width="3" height="2" fill="#000"/>
<rect x="911" y="275" width="1" height="17" fill="#000"/><rect x="910" y="287" width="3" height="4" fill="#000"/><rect x="911" y="288" width="1" height="2" fill="#8ae65c"/>
<rect x="915" y="284" width="1" height="7" fill="#000"/><rect x="914" y="286" width="3" height="2" fill="#000"/>
<rect x="919" y="280" width="1" height="8" fill="#000"/><rect x="918" y="283" width="3" height="5" fill="#000"/><rect x="919" y="284" width="1" height="3" fill="#8ae65c"/>
<rect x="923" y="272" width="1" height="13" fill="#000"/><rect x="922" y="273" width="3" height="11" fill="#000"/><rect x="923" y="274" width="1" height="9" fill="#8ae65c"/>
<rect x="927" y="270" width="1" height="7" fill="#000"/><rect x="926" y="272" width="3" height="3" fill="#000"/><rect x="927" y="273" width="1" height="1" fill="#8ae65c"/>
<rect x="695" y="251" width="5" height="1" fill="#000"/><rect x="699" y="248" width="1.45" height="12" fill="#000" shape-rendering="geometricPrecision"/><rect x="945" y="257" width="5" height="1" fill="#000"/></g>
<path fill="none" stroke="#218c21" stroke-width="1.25" stroke-linejoin="round" d="M5.5,16.2 C8.7,17.6 20.3,22.2 25.7,24.7 C31.1,27.2 34.1,29.1 39.5,31.6 C44.9,34.1 52.9,37.8 59.2,40.5 C65.5,43.2 72.7,45.9 79.0,48.4 C85.3,50.9 92.2,53.6 98.7,56.0 C105.2,58.4 113.2,61.2 119.7,63.7 C126.2,66.2 133.2,69.1 139.5,71.5 C145.8,73.9 152.9,76.5 159.2,78.9 C165.5,81.3 172.7,84.0 179.0,86.2 C185.3,88.4 192.4,90.8 198.7,92.9 C205.0,95.0 212.2,97.2 218.5,99.4 C224.8,101.6 231.9,104.3 238.2,106.7 C244.5,109.1 251.7,112.0 258.0,114.4 C264.3,116.8 272.6,119.6 277.7,121.5 C282.8,123.4 284.9,124.4 290.0,126.3 C295.1,128.2 303.4,131.2 309.7,133.4 C316.0,135.6 323.2,138.0 329.5,140.3 C335.8,142.6 342.9,145.3 349.2,147.6 C355.5,149.9 362.7,152.4 369.0,154.6 C375.3,156.8 382.4,159.1 388.7,161.5 C395.0,163.9 402.2,167.0 408.5,169.4 C414.8,171.8 421.9,173.9 428.2,176.3 C434.5,178.7 441.7,181.5 448.0,184.2 C454.3,186.9 462.6,191.0 467.7,193.4 C472.8,195.8 476.4,197.6 480.0,199.2 C483.6,200.8 486.8,202.0 490.0,203.3 C493.2,204.6 495.0,205.4 499.7,207.1 C504.4,208.8 514.7,212.5 519.5,213.8 C524.3,215.1 526.2,214.9 529.4,215.4 C532.6,215.9 534.5,216.1 539.2,217.0 C543.9,217.9 552.7,219.8 559.0,221.3 C565.3,222.8 572.4,224.9 578.7,226.3 C585.0,227.7 592.2,229.0 598.5,230.2 C604.8,231.4 611.9,232.6 618.2,233.6 C624.5,234.6 631.7,235.8 638.0,236.7 C644.3,237.6 652.6,238.5 657.7,239.1 C662.8,239.7 666.4,239.9 670.0,240.3 C673.6,240.7 676.7,240.9 679.9,241.3 C683.1,241.7 686.5,242.2 689.7,242.6 C692.9,243.0 696.4,243.3 699.6,243.6 C702.8,243.9 706.3,244.3 709.5,244.6 C712.7,244.9 716.2,245.1 719.4,245.3 C722.6,245.5 724.5,245.7 729.2,245.7 C733.9,245.7 744.1,245.6 749.0,245.6 C753.9,245.6 756.7,245.4 760.0,245.4 C763.3,245.4 766.7,245.5 769.9,245.7 C773.1,245.9 776.5,246.2 779.7,246.4 C782.9,246.6 786.4,246.7 789.6,246.9 C792.8,247.1 796.3,247.5 799.5,247.8 C802.7,248.1 806.2,248.4 809.4,248.6 C812.6,248.8 816.0,249.1 819.2,249.3 C822.4,249.5 825.9,249.8 829.1,250.0 C832.3,250.2 835.8,250.6 839.0,250.8 C842.2,251.0 845.4,251.1 848.8,251.3 C852.2,251.5 854.5,251.5 860.0,251.8 C865.5,252.1 875.7,252.5 883.2,253.3 C890.7,254.1 899.3,255.5 906.9,256.8 C914.5,258.1 923.5,260.1 930.6,261.2 C937.7,262.3 948.2,263.1 951.5,263.5"/>
<path fill="none" stroke="#ff1c1c" stroke-width="1.3" stroke-linejoin="round" d="M5.5,184.4 C7.1,185.1 11.6,187.1 15.8,188.7 C20.0,190.3 26.5,192.2 31.6,194.2 C36.7,196.2 42.3,199.0 47.4,201.3 C52.5,203.6 58.1,206.4 63.2,208.4 C68.3,210.4 73.9,212.4 79.0,213.5 C84.1,214.6 91.0,215.1 94.8,215.5 C98.6,215.9 99.7,216.0 102.7,215.9 C105.7,215.8 109.9,215.7 113.7,214.8 C117.5,213.9 121.8,212.0 126.4,210.0 C131.0,208.0 137.1,204.4 142.2,202.1 C147.3,199.8 154.2,197.0 158.0,195.8 C161.8,194.6 162.0,194.9 165.8,194.5 C169.6,194.1 175.8,193.7 181.6,193.4 C187.4,193.1 197.8,192.3 202.1,192.4 C206.4,192.5 204.2,193.1 208.5,194.0 C212.8,194.9 222.7,196.9 229.0,198.1 C235.3,199.3 241.3,200.7 247.9,201.6 C254.5,202.5 262.9,202.9 270.0,204.0 C277.1,205.1 285.9,206.7 292.2,208.4 C298.5,210.1 305.2,213.1 309.6,214.7 C314.0,216.3 316.2,216.8 320.0,218.7 C323.8,220.6 328.0,223.7 333.4,226.4 C338.8,229.1 348.1,233.2 353.5,235.4 C358.9,237.6 359.4,237.3 366.9,240.4 C374.4,243.5 391.2,251.2 400.3,254.5 C409.4,257.8 419.0,259.7 423.7,261.2 C428.4,262.7 426.4,262.6 429.8,263.9 C433.2,265.2 439.9,267.3 444.8,269.1 C449.7,270.9 455.5,273.4 460.6,275.4 C465.7,277.4 471.3,279.8 476.4,281.7 C481.5,283.6 487.5,285.8 492.2,287.3 C496.9,288.8 501.1,290.0 505.8,291.3 C510.5,292.6 516.5,294.2 521.6,295.4 C526.7,296.6 532.3,297.8 537.4,298.6 C542.5,299.4 548.1,300.0 553.2,300.2 C558.3,300.4 563.9,300.1 569.0,299.6 C574.1,299.1 579.7,298.2 584.8,297.1 C589.9,296.0 595.5,294.2 600.6,292.8 C605.7,291.4 611.3,289.9 616.4,288.1 C621.5,286.3 626.9,284.1 632.2,281.8 C637.5,279.5 644.5,276.1 649.6,273.9 C654.7,271.7 660.7,269.4 664.0,268.0 C667.3,266.6 667.5,266.4 670.0,265.3 C672.5,264.2 676.7,262.4 679.9,261.1 C683.1,259.8 686.5,258.2 689.7,257.1 C692.9,256.0 696.4,255.1 699.6,254.5 C702.8,253.9 706.3,253.6 709.5,253.2 C712.7,252.8 716.2,252.5 719.4,252.2 C722.6,251.9 726.0,251.8 729.2,251.5 C732.4,251.2 735.9,250.9 739.1,250.5 C742.3,250.1 745.7,249.6 749.0,249.2 C752.3,248.8 756.7,248.6 760.0,248.3 C763.3,248.0 766.7,247.6 769.9,247.4 C773.1,247.2 776.5,247.0 779.7,247.1 C782.9,247.2 786.4,247.5 789.6,247.8 C792.8,248.1 796.3,248.4 799.5,248.8 C802.7,249.2 806.2,250.0 809.4,250.6 C812.6,251.2 816.0,251.7 819.2,252.3 C822.4,252.9 825.9,253.7 829.1,254.3 C832.3,254.9 835.8,255.5 839.0,256.0 C842.2,256.5 845.4,256.8 848.8,257.2 C852.2,257.6 854.5,257.5 860.0,258.5 C865.5,259.5 877.0,262.2 883.2,263.5 C889.4,264.8 893.9,265.9 899.0,266.7 C904.1,267.5 909.7,268.0 914.8,268.3 C919.9,268.6 924.7,268.6 930.6,268.8 C936.5,269.0 948.2,269.3 951.5,269.4"/>
<g class="c"><rect x="931" y="264" width="1" height="11" fill="#000"/><rect x="930" y="265" width="3" height="8" fill="#000"/><rect x="931" y="266" width="1" height="6" fill="#8ae65c"/>
<rect x="935" y="264" width="1" height="4" fill="#000"/><rect x="934" y="264" width="3" height="3" fill="#000"/><rect x="935" y="265" width="1" height="1" fill="#8ae65c"/>
<rect x="939" y="264" width="1" height="5" fill="#000"/><rect x="938" y="264" width="3" height="4" fill="#000"/><rect x="939" y="265" width="1" height="2" fill="#ff0000"/>
<rect x="943" y="265" width="1" height="12" fill="#000"/><rect x="942" y="267" width="3" height="2" fill="#000"/>
<rect x="947" y="264" width="1" height="11" fill="#000"/><rect x="946" y="265" width="3" height="3" fill="#000"/><rect x="947" y="266" width="1" height="1" fill="#8ae65c"/>
<rect x="951" y="233" width="1" height="33" fill="#000"/><rect x="950" y="235" width="3" height="30" fill="#000"/><rect x="951" y="236" width="1" height="28" fill="#8ae65c"/>
<rect x="945" y="257" width="5" height="1" fill="#000"/></g>
</g>
<g class="c"><rect x="0" y="283" width="957" height="1" fill="#000"/><rect x="0" y="337" width="957" height="1" fill="#000"/><rect x="0" y="262" width="957" height="2" fill="#000"/></g>
<line x1="0" y1="235.5" x2="957" y2="235.5" stroke="#ff0000" stroke-width="1" stroke-dasharray="1,1" class="c"/>
<g clip-path="url(#cpmain)">
<path d="M682.2,248.1 L693,248.1 L687.6,254 Z" fill="url(#gredm)"/>
<path d="M930.4,263.6 L942.2,263.6 L936.3,256.6 Z" fill="url(#ggrm)"/><path d="M930.4,263.3 L942.2,263.3" stroke="#2f8f2f" stroke-width="0.9"/>
<path d="M934,251.6 L939,255.6 M939,251.6 L934,255.6" stroke="#ff5c5c" stroke-width="1.5" fill="none"/>
<rect x="939" y="255.5" width="1" height="3" fill="#9a9a9a" class="c"/>
</g>
<rect x="5" y="14" width="226" height="11" fill="#fff" fill-opacity="0.68"/><g><rect x="10.5" y="8.5" width="15" height="15" fill="#b9121b" stroke="#8c8c8c" stroke-width="1"/><path d="M18.6,8.6 L25,12.7 L24.8,14.6 L16.9,22.9 L15.2,22.9 L10.9,20 L10.9,18.4 Z" fill="#f6cf1f" stroke="#5a3a3a" stroke-opacity="0.55" stroke-width="0.7"/><path d="M18.6,9.2 L24.1,12.7 L16.4,20.8 L11.6,18 Z" fill="url(#ggold)"/><path d="M21.8,11.8 L16.2,18.3" stroke="#f6a23a" stroke-width="1.3" fill="none"/><path d="M13.6,17.2 L14.6,18.4" stroke="#f6a23a" stroke-width="1.1" fill="none"/><path d="M24.4,13.6 L16.6,21.9 L12,19.3" stroke="#f7a712" stroke-width="1" fill="none"/></g>
<text x="30.5" y="21.2" textLength="39" lengthAdjust="spacingAndGlyphs">XAUEUR</text>
<path d="M76,14.5 L82,14.5 L79,18 Z" fill="#000"/>
<text x="96.2" y="21.2" textLength="27.2" lengthAdjust="spacingAndGlyphs">DSMA</text><text x="128.6" y="21.2" textLength="13.4" lengthAdjust="spacingAndGlyphs">50;</text><text x="147.5" y="21.2" textLength="16.0" lengthAdjust="spacingAndGlyphs">200</text><text x="168.2" y="21.2" textLength="46.6" lengthAdjust="spacingAndGlyphs">(XAUEUR)</text>
<path d="M221,14.5 L227,14.5 L224,18 Z" fill="#000"/>
<path d="M905.1,24.8 L907.8,16.3 L911.5,17.4 L913.5,12.3 L918.9,12.3 L913.8,20.5 L910.1,19.1 Z" fill="url(#ggreen)"/>
<rect x="929.5" y="13.5" width="8" height="8" fill="#eef2f8" stroke="#d3d9e7" stroke-width="1"/><rect x="931.5" y="16.5" width="4" height="3" fill="#f8f9fc" stroke="#c2cadd" stroke-width="1"/><path d="M931.0,16.2 H936.0" stroke="#b2bcd4" stroke-width="1.1"/>
<rect x="30.5" y="243.5" width="136" height="111" fill="#ffffff" fill-opacity="0.84" stroke="#a0a0a0" stroke-width="1"/>
<text x="38" y="258.6" textLength="44.4" lengthAdjust="spacingAndGlyphs" font-weight="bold">XAUEUR</text><text x="86.9" y="258.6" textLength="71.5" lengthAdjust="spacingAndGlyphs" font-weight="bold">(Comprador)</text>
<text x="41.5" y="271.5" style="fill:#000;stroke:#000" textLength="60" lengthAdjust="spacingAndGlyphs">19-Jun-2014</text>
<text x="41.5" y="284.5" style="fill:#000;stroke:#000" textLength="32" lengthAdjust="spacingAndGlyphs">Aberto</text><text x="124.6" y="284.5" textLength="33.9" lengthAdjust="spacingAndGlyphs">938,86</text>
<text x="41.5" y="297.5" style="fill:#000;stroke:#000" textLength="35.5" lengthAdjust="spacingAndGlyphs">Máximo</text><text x="124.6" y="297.5" textLength="33.9" lengthAdjust="spacingAndGlyphs">971,06</text>
<text x="41.5" y="310.5" style="fill:#000;stroke:#000" textLength="32" lengthAdjust="spacingAndGlyphs">Mínimo</text><text x="124.6" y="310.5" textLength="33.9" lengthAdjust="spacingAndGlyphs">938,30</text>
<text x="41.5" y="323.5" style="fill:#000;stroke:#000" textLength="29" lengthAdjust="spacingAndGlyphs">Fecho</text><text x="124.6" y="323.5" textLength="33.9" lengthAdjust="spacingAndGlyphs">969,04</text>
<text x="41.5" y="336.5" style="fill:#ff0000;stroke:#ff0000" textLength="60.7" lengthAdjust="spacingAndGlyphs">DSMA rápida</text><text x="124.6" y="336.5" textLength="33.9" lengthAdjust="spacingAndGlyphs">935,81</text>
<text x="41.5" y="349.5" style="fill:#008000;stroke:#008000" textLength="54.3" lengthAdjust="spacingAndGlyphs">DSMA lenta</text><text x="124.6" y="349.5" textLength="33.9" lengthAdjust="spacingAndGlyphs">941,03</text>
<g class="c"><rect x="0" y="363" width="1017" height="1" fill="#000"/><rect x="0" y="364" width="1017" height="1" fill="#d8d8d8"/><rect x="0" y="365" width="1017" height="1" fill="#000"/></g>
<g clip-path="url(#cprsi)">
<polygon points="5,423.5 5.5,396.0 9.5,392.0 12.6,391.2 16.6,394.4 31.6,395.2 47.4,399.1 53.7,403.4 56.1,403.1 60.8,398.7 64.8,397.1 68.7,392.3 71.9,394.4 77.4,391.2 82.1,388.5 90.0,390.8 97.9,390.4 107.4,387.3 121.6,388.1 132.7,385.4 137.4,391.2 140.6,392.8 144.5,390.9 148.5,392.8 152.4,397.1 156.3,398.0 160.3,402.8 164.2,402.3 168.2,404.3 171.3,404.7 175.3,398.7 180.0,398.0 184.0,402.3 189.5,402.3 195.8,400.7 200.6,401.2 204.5,399.9 207.7,401.2 211.6,405.4 215.6,401.5 221.9,401.5 227.4,399.9 232.1,400.2 237.7,402.8 244.0,405.9 247.2,405.9 251.1,403.4 255.1,402.8 259.0,398.7 263.0,399.6 266.9,398.7 270.9,396.0 274.8,397.1 279.5,394.9 285.9,393.6 293.8,394.1 298.5,395.5 307.9,396.4 315.8,395.2 319.0,396.0 322.9,400.2 326.9,402.3 330.8,405.4 334.8,402.8 338.7,399.9 342.7,400.4 346.6,403.4 350.6,403.9 354.5,407.5 358.5,408.6 363.2,409.4 366.4,404.7 370.3,407.0 374.3,407.8 378.2,406.2 382.1,403.4 386.1,407.5 390.8,407.8 394.5,401.8 398.7,405.4 402.7,405.0 406.6,402.8 410.6,398.7 414.5,400.7 418.5,403.9 422.4,401.5 426.4,400.4 430.3,401.8 434.3,402.8 439.0,405.9 442.2,403.4 446.1,403.9 450.1,402.3 454.7,402.3 458.7,401.2 461.8,401.8 466.3,404.7 469.7,401.5 473.7,396.4 478.1,393.3 482.4,393.6 487.9,394.9 493.4,395.2 497.4,392.8 501.3,391.5 505.3,393.6 513.2,393.1 517.9,389.6 521.9,390.1 525.8,393.3 529.0,394.4 533.7,391.2 537.7,390.4 541.6,393.3 545.6,393.3 549.5,391.2 553.5,394.7 557.4,393.3 561.4,391.2 570.0,391.7 574.0,393.1 578.0,392.0 581.9,390.4 585.9,387.3 589.8,386.2 593.8,385.7 597.7,383.3 601.3,382.2 605.5,386.5 609.5,388.9 613.4,387.0 617.4,387.3 623.7,384.9 628.4,386.0 633.2,387.3 637.1,391.2 641.1,386.5 645.0,390.8 652.1,390.1 657.7,393.6 660.8,393.3 669.5,388.5 676.6,386.5 680.6,390.4 689.3,397.1 696.4,395.5 701.1,400.4 707.4,399.9 713.0,402.0 716.9,401.5 724.0,404.7 728.0,400.7 731.9,399.9 736.7,396.0 740.6,398.0 744.5,397.1 756.3,396.0 760.3,392.8 764.2,398.3 768.2,398.3 772.9,399.6 778.4,400.2 784.0,402.3 787.9,402.3 795.8,397.1 799.8,398.7 803.7,398.0 811.6,402.3 815.6,397.5 819.5,395.2 823.5,396.4 828.2,400.4 839.3,395.2 844.0,394.1 847.6,391.2 851.9,394.4 859.8,395.5 867.7,394.9 871.6,393.3 879.5,393.3 883.7,401.6 889.2,403.0 895.5,405.2 902.6,406.0 907.6,405.0 911.5,403.4 917.0,402.3 923.4,396.0 927.3,394.7 931.3,391.7 934.7,390.4 939.1,393.3 943.1,392.8 947.0,392.0 950.2,388.1 951.5,387.3 951.5,423.5" fill="url(#grsi)"/>
<polyline points="5.5,396.0 9.5,392.0 12.6,391.2 16.6,394.4 31.6,395.2 47.4,399.1 53.7,403.4 56.1,403.1 60.8,398.7 64.8,397.1 68.7,392.3 71.9,394.4 77.4,391.2 82.1,388.5 90.0,390.8 97.9,390.4 107.4,387.3 121.6,388.1 132.7,385.4 137.4,391.2 140.6,392.8 144.5,390.9 148.5,392.8 152.4,397.1 156.3,398.0 160.3,402.8 164.2,402.3 168.2,404.3 171.3,404.7 175.3,398.7 180.0,398.0 184.0,402.3 189.5,402.3 195.8,400.7 200.6,401.2 204.5,399.9 207.7,401.2 211.6,405.4 215.6,401.5 221.9,401.5 227.4,399.9 232.1,400.2 237.7,402.8 244.0,405.9 247.2,405.9 251.1,403.4 255.1,402.8 259.0,398.7 263.0,399.6 266.9,398.7 270.9,396.0 274.8,397.1 279.5,394.9 285.9,393.6 293.8,394.1 298.5,395.5 307.9,396.4 315.8,395.2 319.0,396.0 322.9,400.2 326.9,402.3 330.8,405.4 334.8,402.8 338.7,399.9 342.7,400.4 346.6,403.4 350.6,403.9 354.5,407.5 358.5,408.6 363.2,409.4 366.4,404.7 370.3,407.0 374.3,407.8 378.2,406.2 382.1,403.4 386.1,407.5 390.8,407.8 394.5,401.8 398.7,405.4 402.7,405.0 406.6,402.8 410.6,398.7 414.5,400.7 418.5,403.9 422.4,401.5 426.4,400.4 430.3,401.8 434.3,402.8 439.0,405.9 442.2,403.4 446.1,403.9 450.1,402.3 454.7,402.3 458.7,401.2 461.8,401.8 466.3,404.7 469.7,401.5 473.7,396.4 478.1,393.3 482.4,393.6 487.9,394.9 493.4,395.2 497.4,392.8 501.3,391.5 505.3,393.6 513.2,393.1 517.9,389.6 521.9,390.1 525.8,393.3 529.0,394.4 533.7,391.2 537.7,390.4 541.6,393.3 545.6,393.3 549.5,391.2 553.5,394.7 557.4,393.3 561.4,391.2 570.0,391.7 574.0,393.1 578.0,392.0 581.9,390.4 585.9,387.3 589.8,386.2 593.8,385.7 597.7,383.3 601.3,382.2 605.5,386.5 609.5,388.9 613.4,387.0 617.4,387.3 623.7,384.9 628.4,386.0 633.2,387.3 637.1,391.2 641.1,386.5 645.0,390.8 652.1,390.1 657.7,393.6 660.8,393.3 669.5,388.5 676.6,386.5 680.6,390.4 689.3,397.1 696.4,395.5 701.1,400.4 707.4,399.9 713.0,402.0 716.9,401.5 724.0,404.7 728.0,400.7 731.9,399.9 736.7,396.0 740.6,398.0 744.5,397.1 756.3,396.0 760.3,392.8 764.2,398.3 768.2,398.3 772.9,399.6 778.4,400.2 784.0,402.3 787.9,402.3 795.8,397.1 799.8,398.7 803.7,398.0 811.6,402.3 815.6,397.5 819.5,395.2 823.5,396.4 828.2,400.4 839.3,395.2 844.0,394.1 847.6,391.2 851.9,394.4 859.8,395.5 867.7,394.9 871.6,393.3 879.5,393.3 883.7,401.6 889.2,403.0 895.5,405.2 902.6,406.0 907.6,405.0 911.5,403.4 917.0,402.3 923.4,396.0 927.3,394.7 931.3,391.7 934.7,390.4 939.1,393.3 943.1,392.8 947.0,392.0 950.2,388.1 951.5,387.3" fill="none" stroke="#262626" stroke-width="1.2" stroke-linejoin="round"/>
</g>
<rect x="0" y="385" width="959" height="1" fill="#ff0000" class="c"/>
<rect x="0" y="406" width="959" height="1" fill="#008000" class="c"/>
<text x="2.7" y="423.5" style="font-size:9.5px;fill:#a2a2a2;stroke:none;opacity:0.8" textLength="95.2" lengthAdjust="spacingAndGlyphs">PREÇO INDICATIVO</text>
<text x="108.5" y="423.5" style="font-size:9.5px;fill:#a2a2a2;stroke:none;opacity:0.8" textLength="77" lengthAdjust="spacingAndGlyphs">Fuso horário: TMG</text>
<rect x="5" y="377" width="137" height="15" fill="#ffffff" fill-opacity="0.62"/>
<text x="9.5" y="386.6" textLength="15.7" lengthAdjust="spacingAndGlyphs">RSI</text><text x="30.6" y="386.6" textLength="10.8" lengthAdjust="spacingAndGlyphs">14</text><text x="45" y="386.6" textLength="28.5" lengthAdjust="spacingAndGlyphs">Wilder</text><text x="78.2" y="386.6" textLength="46.6" lengthAdjust="spacingAndGlyphs">(XAUEUR)</text>
<path d="M131,380.3 L137,380.3 L134,383.8 Z" fill="#000"/>
<rect x="929.5" y="379.5" width="8" height="8" fill="#eef2f8" stroke="#d3d9e7" stroke-width="1"/><rect x="931.5" y="382.5" width="4" height="3" fill="#f8f9fc" stroke="#c2cadd" stroke-width="1"/><path d="M931.0,382.2 H936.0" stroke="#b2bcd4" stroke-width="1.1"/>
<rect x="944.5" y="379.5" width="8.5" height="8" fill="#fff" fill-opacity="0.7"/><path d="M945.3,380.2 L952.3,387.3 M952.3,380.2 L945.3,387.3" stroke="#c6cedf" stroke-width="2" fill="none"/>
<g class="c"><rect x="0" y="426" width="960" height="1" fill="#000"/><rect x="0" y="441" width="960" height="1" fill="#000"/><rect x="40" y="426" width="1" height="15" fill="#000"/><rect x="128" y="426" width="1" height="15" fill="#000"/><rect x="211" y="426" width="1" height="15" fill="#000"/><rect x="303" y="426" width="1" height="15" fill="#000"/><rect x="386" y="426" width="1" height="15" fill="#000"/><rect x="561" y="426" width="1" height="15" fill="#000"/><rect x="640" y="426" width="1" height="15" fill="#000"/><rect x="724" y="426" width="1" height="15" fill="#000"/><rect x="811" y="426" width="1" height="15" fill="#000"/><rect x="899" y="426" width="1" height="15" fill="#000"/><rect x="474" y="426" width="1" height="30" fill="#000"/></g>
<text x="22.2" y="437.5" text-anchor="middle">Jul</text><text x="83.7" y="437.5" text-anchor="middle">Ago</text><text x="169.2" y="437.5" text-anchor="middle">Set</text><text x="256.7" y="437.5" text-anchor="middle">Out</text><text x="344.2" y="437.5" text-anchor="middle">Nov</text><text x="429.7" y="437.5" text-anchor="middle">Dez</text><text x="517.2" y="437.5" text-anchor="middle">Jan</text><text x="600.2" y="437.5" text-anchor="middle">Fev</text><text x="681.7" y="437.5" text-anchor="middle">Mar</text><text x="767.2" y="437.5" text-anchor="middle">Abr</text><text x="854.7" y="437.5" text-anchor="middle">Mai</text><text x="927.0" y="437.5" text-anchor="middle">Jun</text>
<text x="240" y="453" text-anchor="middle">2013</text><text x="715.5" y="453" text-anchor="middle">2014</text>
<g class="c"><rect x="959" y="0" width="1" height="456" fill="#000"/><rect x="960" y="6" width="5" height="1" fill="#000"/><rect x="960" y="16" width="3" height="1" fill="#000"/><rect x="960" y="26" width="3" height="1" fill="#000"/><rect x="960" y="36" width="3" height="1" fill="#000"/><rect x="960" y="46" width="3" height="1" fill="#000"/><rect x="960" y="55" width="5" height="1" fill="#000"/><rect x="960" y="65" width="3" height="1" fill="#000"/><rect x="960" y="75" width="3" height="1" fill="#000"/><rect x="960" y="85" width="3" height="1" fill="#000"/><rect x="960" y="95" width="3" height="1" fill="#000"/><rect x="960" y="105" width="5" height="1" fill="#000"/><rect x="960" y="115" width="3" height="1" fill="#000"/><rect x="960" y="125" width="3" height="1" fill="#000"/><rect x="960" y="135" width="3" height="1" fill="#000"/><rect x="960" y="145" width="3" height="1" fill="#000"/><rect x="960" y="155" width="5" height="1" fill="#000"/><rect x="960" y="165" width="3" height="1" fill="#000"/><rect x="960" y="175" width="3" height="1" fill="#000"/><rect x="960" y="185" width="3" height="1" fill="#000"/><rect x="960" y="195" width="3" height="1" fill="#000"/><rect x="960" y="204" width="5" height="1" fill="#000"/><rect x="960" y="214" width="3" height="1" fill="#000"/><rect x="960" y="224" width="3" height="1" fill="#000"/><rect x="960" y="234" width="3" height="1" fill="#000"/><rect x="960" y="244" width="3" height="1" fill="#000"/><rect x="960" y="254" width="5" height="1" fill="#000"/><rect x="960" y="264" width="3" height="1" fill="#000"/><rect x="960" y="274" width="3" height="1" fill="#000"/><rect x="960" y="284" width="3" height="1" fill="#000"/><rect x="960" y="294" width="3" height="1" fill="#000"/><rect x="960" y="304" width="5" height="1" fill="#000"/><rect x="960" y="314" width="3" height="1" fill="#000"/><rect x="960" y="324" width="3" height="1" fill="#000"/><rect x="960" y="334" width="3" height="1" fill="#000"/><rect x="960" y="344" width="3" height="1" fill="#000"/><rect x="960" y="353" width="5" height="1" fill="#000"/><rect x="960" y="368" width="5" height="1" fill="#000"/><rect x="960" y="423" width="5" height="1" fill="#000"/></g>
<text x="967.3" y="10.7" textLength="42.4" lengthAdjust="spacingAndGlyphs">1.200,00</text><text x="967.3" y="60.4" textLength="42.4" lengthAdjust="spacingAndGlyphs">1.150,00</text><text x="967.3" y="110.0" textLength="42.4" lengthAdjust="spacingAndGlyphs">1.100,00</text><text x="967.3" y="159.7" textLength="42.4" lengthAdjust="spacingAndGlyphs">1.050,00</text><text x="967.3" y="209.4" textLength="42.4" lengthAdjust="spacingAndGlyphs">1.000,00</text><text x="967.3" y="259.0" textLength="33" lengthAdjust="spacingAndGlyphs">950,00</text><text x="967.3" y="308.7" textLength="33" lengthAdjust="spacingAndGlyphs">900,00</text><text x="967.3" y="358.4" textLength="33" lengthAdjust="spacingAndGlyphs">850,00</text><text x="967.3" y="372.5" textLength="33" lengthAdjust="spacingAndGlyphs">100,00</text><text x="967.3" y="428" textLength="21.3" lengthAdjust="spacingAndGlyphs">0,00</text>
<rect x="962" y="229" width="43" height="18" fill="#000" fill-opacity="0.28" class="c"/><rect x="963" y="230" width="43" height="17" fill="#000" fill-opacity="0.12" class="c"/><path d="M960.5,227.5 H1002.5 V244.5 H960.5 V238 L958,236 L960.5,234 Z" fill="#f7f7de" stroke="#000" stroke-width="1"/><text x="965" y="240" textLength="34" lengthAdjust="spacingAndGlyphs">969,04</text>
<rect x="962" y="256" width="43" height="18" fill="#000" fill-opacity="0.28" class="c"/><rect x="963" y="257" width="43" height="17" fill="#000" fill-opacity="0.12" class="c"/><path d="M960.5,254.5 H1002.5 V271.5 H960.5 V265 L958,263 L960.5,261 Z" fill="#f7f7de" stroke="#000" stroke-width="1"/><text x="965" y="267" textLength="34" lengthAdjust="spacingAndGlyphs">941,77</text>
<rect x="962" y="277" width="43" height="18" fill="#000" fill-opacity="0.28" class="c"/><rect x="963" y="278" width="43" height="17" fill="#000" fill-opacity="0.12" class="c"/><path d="M960.5,275.5 H1002.5 V292.5 H960.5 V286 L958,284 L960.5,282 Z" fill="#f7f7de" stroke="#000" stroke-width="1"/><text x="965" y="288" textLength="34" lengthAdjust="spacingAndGlyphs">920,73</text>
<rect x="962" y="331" width="43" height="18" fill="#000" fill-opacity="0.28" class="c"/><rect x="963" y="332" width="43" height="17" fill="#000" fill-opacity="0.12" class="c"/><path d="M960.5,329.5 H1002.5 V346.5 H960.5 V340 L958,338 L960.5,336 Z" fill="#f7f7de" stroke="#000" stroke-width="1"/><text x="965" y="342" textLength="34" lengthAdjust="spacingAndGlyphs">866,44</text>
<rect x="962" y="379" width="36" height="18" fill="#000" fill-opacity="0.28" class="c"/><rect x="963" y="380" width="36" height="17" fill="#000" fill-opacity="0.12" class="c"/><path d="M960.5,377.5 H995.5 V394.5 H960.5 V388 L958,386 L960.5,384 Z" fill="#f7f7de" stroke="#000" stroke-width="1"/><text x="965" y="390" textLength="27.5" lengthAdjust="spacingAndGlyphs">70,00</text>
<rect x="962" y="400" width="36" height="18" fill="#000" fill-opacity="0.28" class="c"/><rect x="963" y="401" width="36" height="17" fill="#000" fill-opacity="0.12" class="c"/><path d="M960.5,398.5 H995.5 V415.5 H960.5 V409 L958,407 L960.5,405 Z" fill="#f7f7de" stroke="#000" stroke-width="1"/><text x="965" y="411" textLength="27.5" lengthAdjust="spacingAndGlyphs">30,00</text>
</svg>
</body></html>
